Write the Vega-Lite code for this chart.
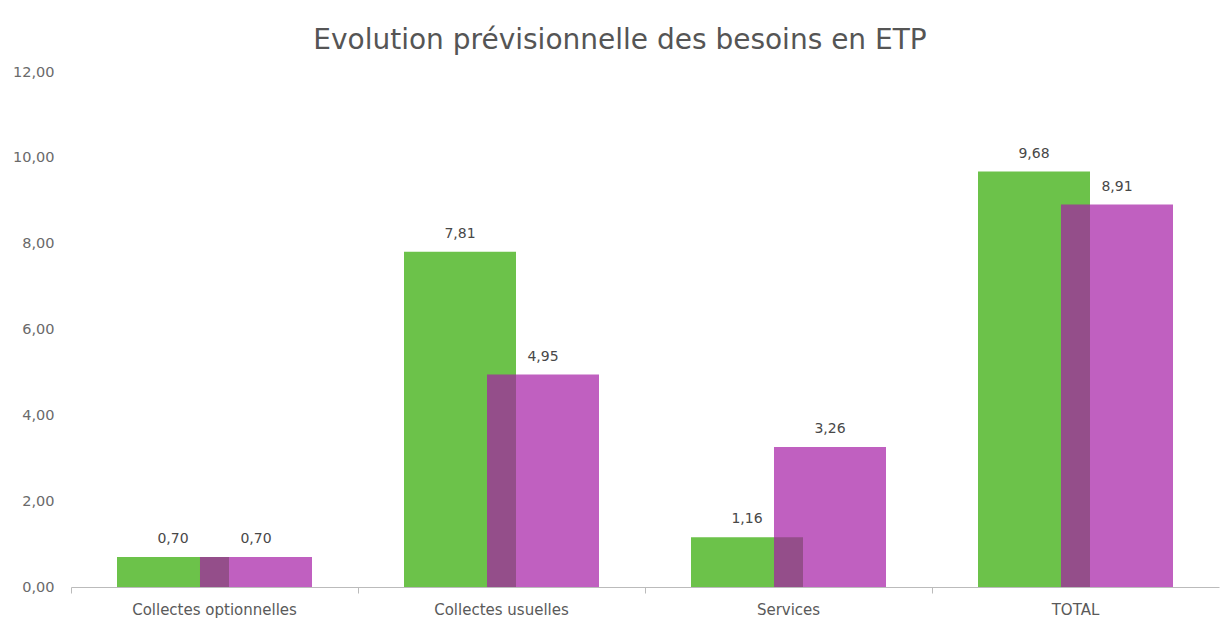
{
  "$schema": "https://vega.github.io/schema/vega-lite/v6.json",
  "width": 1148,
  "height": 515,
  "autosize": {"type": "none"},
  "padding": {"left": 71, "top": 72, "right": 8, "bottom": 38},
  "background": "white",
  "config": {
    "locale": {"number": {"decimal": ",", "thousands": " ", "grouping": [3], "currency": ["", " €"]}},
    "view": {"stroke": null},
    "font": "DejaVu Sans"
  },
  "title": {
    "text": "Evolution prévisionnelle des besoins en ETP",
    "font": "DejaVu Sans",
    "fontSize": 28,
    "fontWeight": "normal",
    "color": "#555555",
    "anchor": "middle",
    "dx": -25,
    "offset": 9
  },
  "data": {
    "values": [
      {"categorie": "Collectes optionnelles", "serie": "Série 1", "valeur": 0.70},
      {"categorie": "Collectes usuelles", "serie": "Série 1", "valeur": 7.81},
      {"categorie": "Services", "serie": "Série 1", "valeur": 1.16},
      {"categorie": "TOTAL", "serie": "Série 1", "valeur": 9.68},
      {"categorie": "Collectes optionnelles", "serie": "Série 2", "valeur": 0.70},
      {"categorie": "Collectes usuelles", "serie": "Série 2", "valeur": 4.95},
      {"categorie": "Services", "serie": "Série 2", "valeur": 3.26},
      {"categorie": "TOTAL", "serie": "Série 2", "valeur": 8.91}
    ]
  },
  "encoding": {
    "x": {
      "field": "categorie",
      "type": "nominal",
      "sort": null,
      "scale": {"paddingInner": 0, "paddingOuter": 0},
      "axis": {
        "title": null,
        "labelAngle": 0,
        "labelFont": "DejaVu Sans",
        "labelFontSize": 15,
        "labelColor": "#5a5a5a",
        "labelPadding": 9,
        "domainColor": "#bbbbbb",
        "tickColor": "#bbbbbb",
        "tickSize": 6,
        "bandPosition": 0
      }
    },
    "xOffset": {
      "field": "serie",
      "type": "nominal",
      "scale": {"paddingInner": 0, "paddingOuter": 0.729}
    },
    "y": {
      "field": "valeur",
      "type": "quantitative",
      "scale": {"domain": [0, 12]},
      "axis": {
        "title": null,
        "values": [0, 2, 4, 6, 8, 10, 12],
        "format": ".2f",
        "grid": false,
        "domain": false,
        "ticks": false,
        "labelFont": "DejaVu Sans",
        "labelFontSize": 14.5,
        "labelColor": "#6a6a6a",
        "labelPadding": 17
      }
    }
  },
  "layer": [
    {
      "mark": {"type": "bar", "width": 112},
      "encoding": {
        "color": {
          "field": "serie",
          "type": "nominal",
          "scale": {"domain": ["Série 1", "Série 2"], "range": ["#6cc24a", "#a51ca5"]},
          "legend": null
        },
        "opacity": {
          "field": "serie",
          "type": "nominal",
          "scale": {"domain": ["Série 1", "Série 2"], "range": [1, 0.7]},
          "legend": null
        }
      }
    },
    {
      "mark": {"type": "text", "baseline": "bottom", "dy": -11, "fontSize": 14, "font": "DejaVu Sans", "color": "#484848"},
      "encoding": {
        "text": {"field": "valeur", "type": "quantitative", "format": ".2f"}
      }
    }
  ]
}
